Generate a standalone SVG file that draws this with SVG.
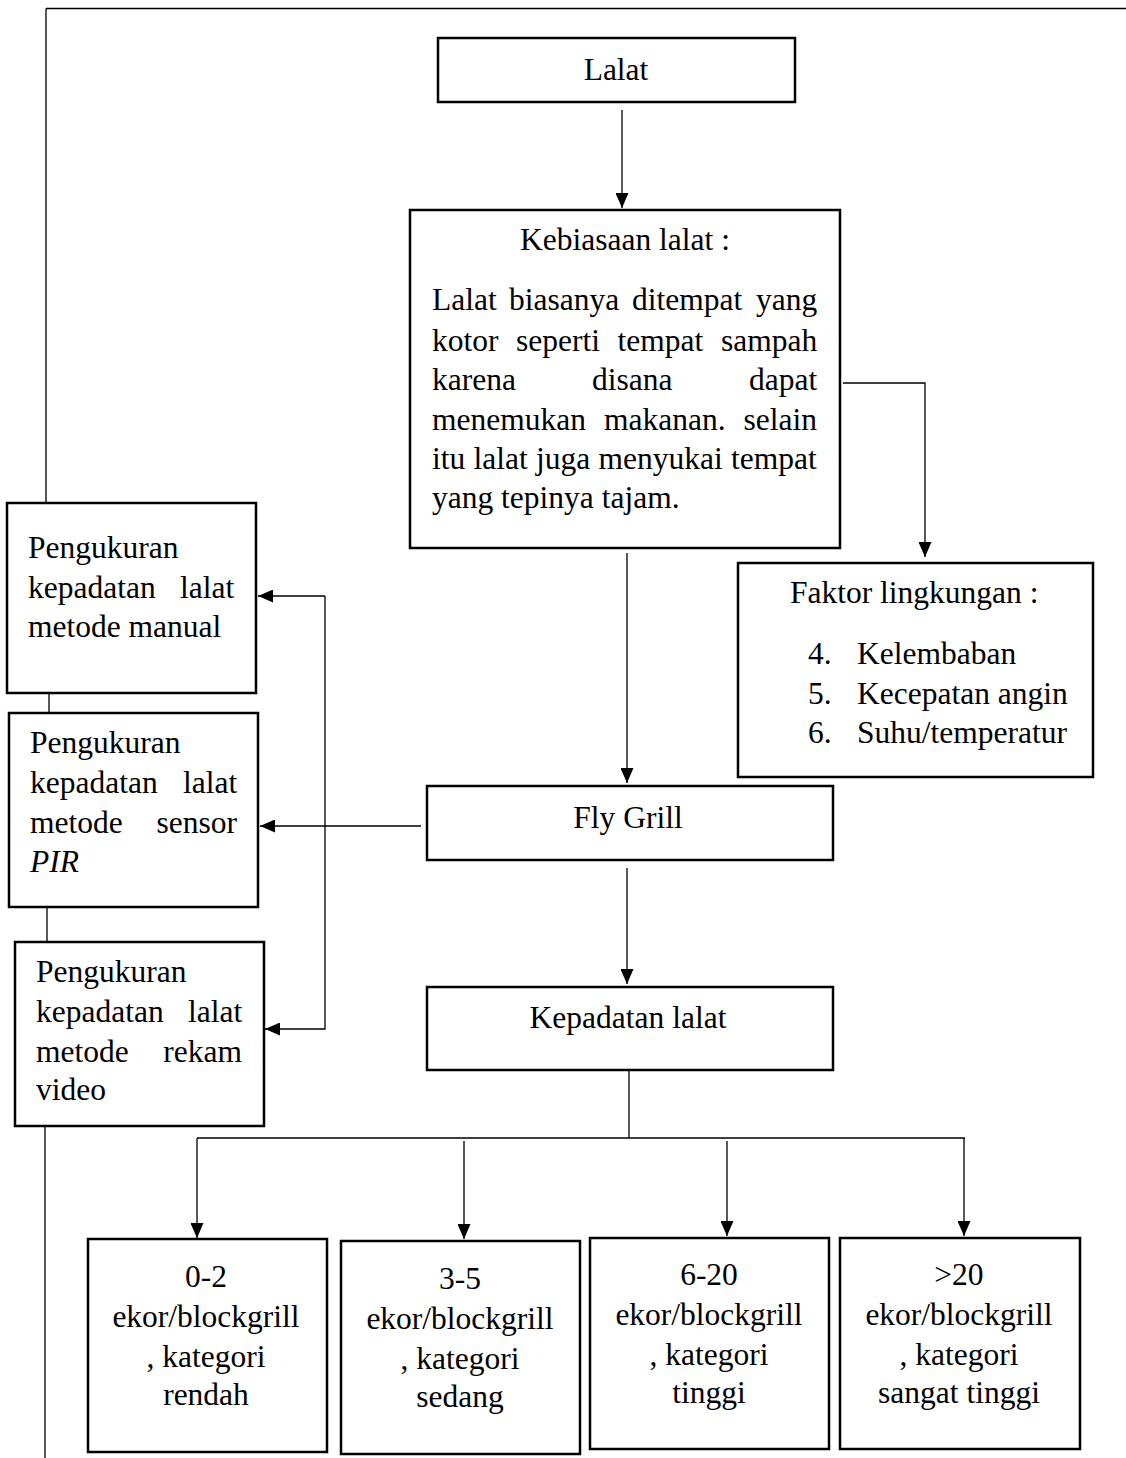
<svg xmlns="http://www.w3.org/2000/svg" width="1126" height="1458" viewBox="0 0 1126 1458">
<style>
.box{fill:#fff;stroke:#000;stroke-width:2.5}
.ln{fill:none;stroke:#000;stroke-width:1.3}
.arr{fill:none;stroke:#000;stroke-width:1.3;marker-end:url(#ah)}
text{font-family:"Liberation Serif","Times New Roman",serif;font-size:31.5px;fill:#000}
.c{text-anchor:middle}
.e{text-anchor:end}
</style>
<defs>
<marker id="ah" viewBox="0 0 15 13" refX="15" refY="6.5" markerWidth="15" markerHeight="13" markerUnits="userSpaceOnUse" orient="auto">
<path d="M0,0 L15,6.5 L0,13 z" fill="#000"/>
</marker>
</defs>
<rect width="1126" height="1458" fill="#fff"/>
<g id="connectors">
<path class="ln" d="M46,8.5 H1126 M46,8.5 V502 M49,693 V713 M47,907 V942 M45,1126 V1458"/>
<path class="arr" d="M622,110 V208"/>
<path class="arr" d="M843,383 H925 V557"/>
<path class="arr" d="M627,553 V783"/>
<path class="arr" d="M421,826 H260"/>
<path class="arr" d="M325,596 H258"/>
<path class="arr" d="M325,596 V1029 H265"/>
<path class="arr" d="M627,868 V984"/>
<path class="ln" d="M629,1070 V1138 M197,1138 H965"/>
<path class="arr" d="M197,1138 V1238"/>
<path class="arr" d="M464,1141 V1239"/>
<path class="arr" d="M727,1141 V1236"/>
<path class="arr" d="M964,1138 V1236"/>
</g>
<g id="lalat">
<rect class="box" x="438" y="38" width="357" height="64"/>
<text class="c" x="616" y="80">Lalat</text>
</g>
<g id="kebiasaan">
<rect class="box" x="410" y="210" width="430" height="338"/>
<text class="c" x="625" y="250">Kebiasaan lalat :</text>
<text y="310"><tspan x="432">Lalat</tspan><tspan x="509">biasanya</tspan><tspan x="632">ditempat</tspan><tspan x="756">yang</tspan></text>
<text y="351"><tspan x="432">kotor</tspan><tspan x="516">seperti</tspan><tspan x="617.5">tempat</tspan><tspan x="721">sampah</tspan></text>
<text y="390"><tspan x="432">karena</tspan><tspan x="592">disana</tspan><tspan x="749">dapat</tspan></text>
<text y="430"><tspan x="432">menemukan</tspan><tspan x="604">makanan.</tspan><tspan x="743.5">selain</tspan></text>
<text y="469"><tspan x="432">itu</tspan><tspan x="473.6">lalat</tspan><tspan x="536.1">juga</tspan><tspan x="598.6">menyukai</tspan><tspan x="731.1">tempat</tspan></text>
<text x="432" y="508">yang tepinya tajam.</text>
</g>
<g id="faktor">
<rect class="box" x="738" y="563" width="355" height="214"/>
<text x="790" y="603">Faktor lingkungan :</text>
<text x="808" y="664">4.</text><text x="857" y="664">Kelembaban</text>
<text x="808" y="704">5.</text><text x="857" y="704">Kecepatan angin</text>
<text x="808" y="743">6.</text><text x="857" y="743">Suhu/temperatur</text>
</g>
<g id="manual">
<rect class="box" x="7" y="503" width="249" height="190"/>
<text x="28" y="558">Pengukuran</text>
<text y="598"><tspan x="28">kepadatan</tspan><tspan x="180">lalat</tspan></text>
<text x="28" y="637">metode manual</text>
</g>
<g id="pir">
<rect class="box" x="9" y="713" width="249" height="194"/>
<text x="30" y="753">Pengukuran</text>
<text y="793"><tspan x="30">kepadatan</tspan><tspan x="183">lalat</tspan></text>
<text y="833"><tspan x="30">metode</tspan><tspan x="156.5">sensor</tspan></text>
<text x="30" y="872" font-style="italic">PIR</text>
</g>
<g id="video">
<rect class="box" x="15" y="942" width="249" height="184"/>
<text x="36" y="982">Pengukuran</text>
<text y="1022"><tspan x="36">kepadatan</tspan><tspan x="188">lalat</tspan></text>
<text y="1062"><tspan x="36">metode</tspan><tspan x="163.3">rekam</tspan></text>
<text x="36" y="1100">video</text>
</g>
<g id="flygrill">
<rect class="box" x="427" y="786" width="406" height="74"/>
<text class="c" x="628" y="828">Fly Grill</text>
</g>
<g id="kepadatan">
<rect class="box" x="427" y="987" width="406" height="83"/>
<text class="c" x="628" y="1028">Kepadatan lalat</text>
</g>
<g id="k1">
<rect class="box" x="88" y="1239" width="239" height="213"/>
<text class="c" x="206" y="1287">0-2</text>
<text class="c" x="206" y="1327">ekor/blockgrill</text>
<text class="c" x="206" y="1367">, kategori</text>
<text class="c" x="206" y="1405">rendah</text>
</g>
<g id="k2">
<rect class="box" x="341" y="1241" width="239" height="213"/>
<text class="c" x="460" y="1289">3-5</text>
<text class="c" x="460" y="1329">ekor/blockgrill</text>
<text class="c" x="460" y="1369">, kategori</text>
<text class="c" x="460" y="1407">sedang</text>
</g>
<g id="k3">
<rect class="box" x="590" y="1238" width="239" height="211"/>
<text class="c" x="709" y="1285">6-20</text>
<text class="c" x="709" y="1325">ekor/blockgrill</text>
<text class="c" x="709" y="1365">, kategori</text>
<text class="c" x="709" y="1403">tinggi</text>
</g>
<g id="k4">
<rect class="box" x="840" y="1238" width="240" height="211"/>
<text class="c" x="959" y="1285">&gt;20</text>
<text class="c" x="959" y="1325">ekor/blockgrill</text>
<text class="c" x="959" y="1365">, kategori</text>
<text class="c" x="959" y="1403">sangat tinggi</text>
</g>
</svg>
